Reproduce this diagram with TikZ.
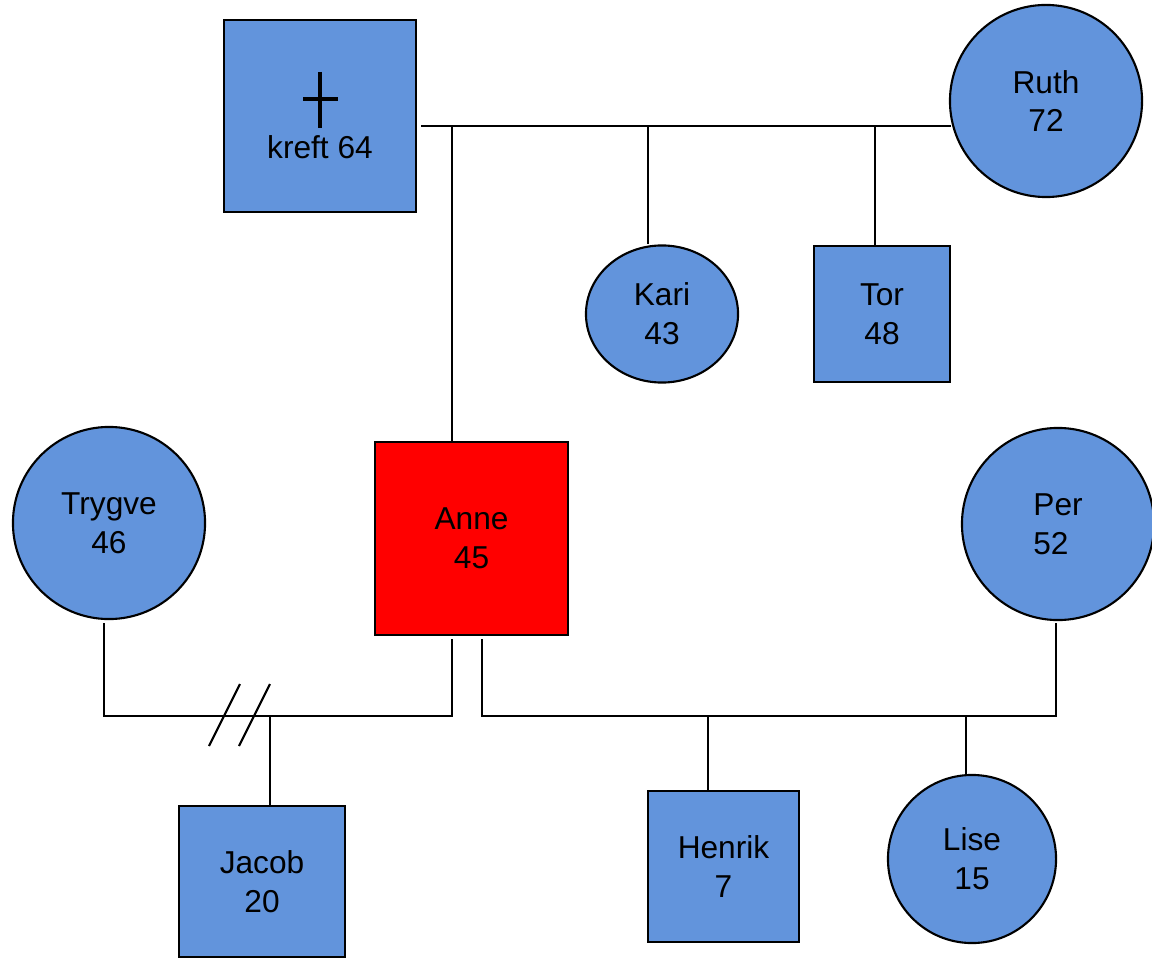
\documentclass[tikz,border=0pt]{standalone}
\usepackage{fontspec}
\setmainfont{Liberation Sans}
\usetikzlibrary{shapes.geometric}
\definecolor{personblue}{RGB}{98,148,220}

\begin{document}
\begin{tikzpicture}[x=0.01cm, y=-0.01cm, line width=0.6pt,
    person/.style={draw, fill=personblue, inner sep=0pt, align=center, font=\fontsize{9}{11}\selectfont},
    male/.style={person, rectangle},
    female/.style={person, circle}]
    \useasboundingbox (0,0) rectangle (1152,958);

    % grandparents
    \node[male, minimum size=1.92cm] (Kreft) at (320,116) {};
    \node[font=\fontsize{9}{11}\selectfont] (KreftLabel) at (320,147) {kreft 64};
    \draw[line width=0.9pt] (Kreft.center) ++(0,-44) -- ++(0,56);
    \draw[line width=0.9pt] (Kreft.center) ++(-17,-17) -- ++(35,0);
    \node[female, minimum size=1.92cm] (Ruth) at (1046,101) {Ruth\\72};

    % children
    \node[person, ellipse, minimum width=1.52cm, minimum height=1.37cm] (Kari) at (662,314) {Kari\\43};
    \node[male, minimum size=1.36cm] (Tor) at (882,314) {Tor\\48};
    \node[male, fill=red, minimum size=1.93cm] (Anne) at (471.5,538.5) {Anne\\45};

    % partners
    \node[female, minimum size=1.92cm] (Trygve) at (109,523) {Trygve\\46};
    \node[female, align=left, minimum size=1.92cm] (Per) at (1058,524) {Per\\52};

    % grandchildren
    \node[male, minimum width=1.66cm, minimum height=1.51cm] (Jacob) at (262,881.5) {Jacob\\20};
    \node[male, minimum size=1.51cm] (Henrik) at (723.5,866.5) {Henrik\\7};
    \node[female, minimum size=1.68cm] (Lise) at (972,859) {Lise\\15};

    % first marriage
    \coordinate (BarStart) at (421,126);
    \coordinate (BarEnd) at (951,126);
    \coordinate (AnneUp) at (452,126);
    \coordinate (KariUp) at (648,126);
    \coordinate (TorUp) at (875,126);
    \draw (BarStart) -- (BarEnd);
    \draw (AnneUp) -- (AnneUp |- Anne.north);
    \draw (KariUp) -- (KariUp |- Kari.north);
    \draw (TorUp) -- (TorUp |- Tor.north);

    % Anne and Trygve, divorced
    \coordinate (TrygveDown) at (104,623);
    \coordinate (AnneLeft) at (452,639);
    \coordinate (Divorce) at (270,716);
    \draw (TrygveDown) -- (TrygveDown |- Divorce) -- (AnneLeft |- Divorce) -- (AnneLeft);
    \draw (Divorce) -- (Divorce |- Jacob.north);
    \foreach \sx in {209,239}
        \draw (\sx,746) -- ++(31,-62);

    % Anne and Per
    \coordinate (AnneRight) at (482,639);
    \coordinate (PerDown) at (1056,623);
    \coordinate (HenrikUp) at (708,716);
    \coordinate (LiseUp) at (966,716);
    \draw (AnneRight) -- (AnneRight |- HenrikUp) -- (PerDown |- HenrikUp) -- (PerDown);
    \draw (HenrikUp) -- (HenrikUp |- Henrik.north);
    \draw (LiseUp) -- (LiseUp |- Lise.north);
\end{tikzpicture}
\end{document}
